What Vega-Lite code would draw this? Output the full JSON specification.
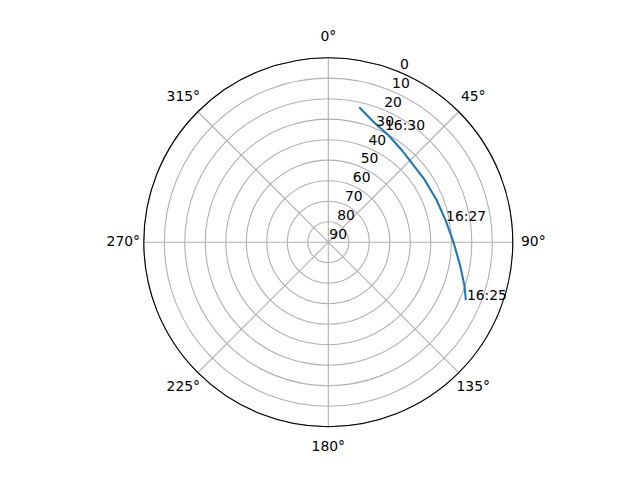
{
  "$schema": "https://vega.github.io/schema/vega-lite/v6.json",
  "width": 369,
  "height": 369,
  "autosize": {"type": "none"},
  "padding": {"left": 143.8, "top": 57.7, "right": 127.2, "bottom": 53.3},
  "background": "white",
  "view": {"stroke": null},
  "config": {"font": "DejaVu Sans"},
  "datasets": {
    "rings": [
      {"el": 0}, {"el": 10}, {"el": 20}, {"el": 30}, {"el": 40},
      {"el": 50}, {"el": 60}, {"el": 70}, {"el": 80}, {"el": 90}
    ],
    "spokes": [
      {"az": 0, "label": "0°"}, {"az": 45, "label": "45°"},
      {"az": 90, "label": "90°"}, {"az": 135, "label": "135°"},
      {"az": 180, "label": "180°"}, {"az": 225, "label": "225°"},
      {"az": 270, "label": "270°"}, {"az": 315, "label": "315°"}
    ],
    "track": [
      {"az": 12.9, "el": 22.5},
      {"az": 20.5, "el": 27.3},
      {"az": 29.2, "el": 30.1},
      {"az": 38.5, "el": 32.5},
      {"az": 47.8, "el": 34.0},
      {"az": 56.8, "el": 34.0},
      {"az": 68.7, "el": 33.3},
      {"az": 79.3, "el": 31.8},
      {"az": 89.8, "el": 29.0},
      {"az": 99.8, "el": 24.8},
      {"az": 107.5, "el": 20.4},
      {"az": 112.8, "el": 17.2}
    ],
    "times": [
      {"az": 26.4, "el": 28.9, "label": "16:30"},
      {"az": 79.6, "el": 32.1, "label": "16:27"},
      {"az": 112.8, "el": 17.2, "label": "16:25"}
    ]
  },
  "layer": [
    {
      "data": {"name": "rings"},
      "transform": [
        {"calculate": "90 - datum.el", "as": "d"},
        {"filter": "datum.d > 0"},
        {"calculate": "0", "as": "c"}
      ],
      "mark": {"type": "point", "shape": "circle", "filled": false, "stroke": "#b0b0b0", "strokeWidth": 1.1, "opacity": 1},
      "encoding": {
        "x": {"field": "c", "type": "quantitative", "scale": {"domain": [-90, 90], "nice": false, "zero": false}, "axis": null},
        "y": {"field": "c", "type": "quantitative", "scale": {"domain": [-90, 90], "nice": false, "zero": false}, "axis": null},
        "size": {"field": "d", "type": "quantitative", "legend": null, "scale": {"type": "pow", "exponent": 2, "domain": [0, 90], "range": [0, 136161], "zero": true}}
      }
    },
    {
      "data": {"name": "spokes"},
      "transform": [
        {"calculate": "0", "as": "c"},
        {"calculate": "90 * sin(datum.az * PI / 180)", "as": "ex"},
        {"calculate": "90 * cos(datum.az * PI / 180)", "as": "ey"}
      ],
      "mark": {"type": "rule", "color": "#b0b0b0", "strokeWidth": 1.1},
      "encoding": {
        "x": {"field": "c", "type": "quantitative", "scale": {"domain": [-90, 90], "nice": false, "zero": false}, "axis": null},
        "y": {"field": "c", "type": "quantitative", "scale": {"domain": [-90, 90], "nice": false, "zero": false}, "axis": null},
        "x2": {"field": "ex"},
        "y2": {"field": "ey"}
      }
    },
    {
      "data": {"name": "rings"},
      "transform": [
        {"calculate": "90 - datum.el", "as": "d"},
        {"filter": "datum.d == 90"},
        {"calculate": "0", "as": "c"}
      ],
      "mark": {"type": "point", "shape": "circle", "filled": false, "stroke": "black", "strokeWidth": 1.1, "opacity": 1},
      "encoding": {
        "x": {"field": "c", "type": "quantitative", "scale": {"domain": [-90, 90], "nice": false, "zero": false}, "axis": null},
        "y": {"field": "c", "type": "quantitative", "scale": {"domain": [-90, 90], "nice": false, "zero": false}, "axis": null},
        "size": {"field": "d", "type": "quantitative", "legend": null, "scale": {"type": "pow", "exponent": 2, "domain": [0, 90], "range": [0, 136161], "zero": true}}
      }
    },
    {
      "data": {"name": "track"},
      "transform": [
        {"calculate": "(90 - datum.el) * sin(datum.az * PI / 180)", "as": "px"},
        {"calculate": "(90 - datum.el) * cos(datum.az * PI / 180)", "as": "py"}
      ],
      "mark": {"type": "line", "color": "#1f77b4", "strokeWidth": 2.1},
      "encoding": {
        "x": {"field": "px", "type": "quantitative", "scale": {"domain": [-90, 90], "nice": false, "zero": false}, "axis": null},
        "y": {"field": "py", "type": "quantitative", "scale": {"domain": [-90, 90], "nice": false, "zero": false}, "axis": null},
        "order": {"field": "az", "type": "quantitative"}
      }
    },
    {
      "data": {"name": "spokes"},
      "transform": [
        {"calculate": "100 * sin(datum.az * PI / 180)", "as": "lx"},
        {"calculate": "100 * cos(datum.az * PI / 180)", "as": "ly"}
      ],
      "mark": {"type": "text", "fontSize": 13.9, "color": "black", "align": "center", "baseline": "middle"},
      "encoding": {
        "x": {"field": "lx", "type": "quantitative", "scale": {"domain": [-90, 90], "nice": false, "zero": false}, "axis": null},
        "y": {"field": "ly", "type": "quantitative", "scale": {"domain": [-90, 90], "nice": false, "zero": false}, "axis": null},
        "text": {"field": "label", "type": "nominal"}
      }
    },
    {
      "data": {"name": "rings"},
      "transform": [
        {"calculate": "(90 - datum.el) * sin(22.5 * PI / 180)", "as": "rx"},
        {"calculate": "(90 - datum.el) * cos(22.5 * PI / 180)", "as": "ry"}
      ],
      "mark": {"type": "text", "fontSize": 13.9, "color": "black", "align": "left", "baseline": "alphabetic", "dx": 1, "dy": -3},
      "encoding": {
        "x": {"field": "rx", "type": "quantitative", "scale": {"domain": [-90, 90], "nice": false, "zero": false}, "axis": null},
        "y": {"field": "ry", "type": "quantitative", "scale": {"domain": [-90, 90], "nice": false, "zero": false}, "axis": null},
        "text": {"field": "el", "type": "quantitative"}
      }
    },
    {
      "data": {"name": "times"},
      "transform": [
        {"calculate": "(90 - datum.el) * sin(datum.az * PI / 180)", "as": "tx"},
        {"calculate": "(90 - datum.el) * cos(datum.az * PI / 180)", "as": "ty"}
      ],
      "mark": {"type": "text", "fontSize": 13.9, "color": "black", "align": "left", "baseline": "alphabetic", "dx": 1},
      "encoding": {
        "x": {"field": "tx", "type": "quantitative", "scale": {"domain": [-90, 90], "nice": false, "zero": false}, "axis": null},
        "y": {"field": "ty", "type": "quantitative", "scale": {"domain": [-90, 90], "nice": false, "zero": false}, "axis": null},
        "text": {"field": "label", "type": "nominal"}
      }
    }
  ]
}
